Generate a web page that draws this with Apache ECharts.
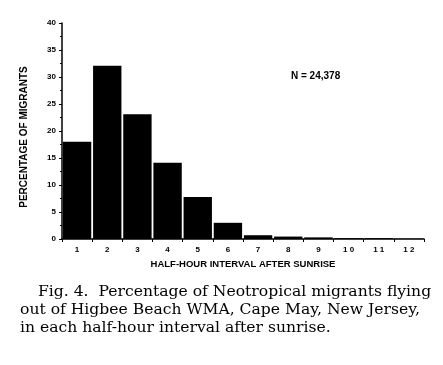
<!DOCTYPE html>
<html><head><meta charset="utf-8">
<script src="https://cdn.jsdelivr.net/npm/echarts@6/dist/echarts.min.js"></script>
<style>html,body{margin:0;padding:0;background:#fff}#c{width:443px;height:365px}</style>
</head><body><div id="c"></div>
<script>
const categories = ["1","2","3","4","5","6","7","8","9","10","11","12"];
const percentages = [18.0, 32.1, 23.1, 14.1, 7.8, 3.0, 0.7, 0.45, 0.3, 0.15, 0.15, 0.05];
const yTicks = [0, 5, 10, 15, 20, 25, 30, 35, 40];
const captionLines = [
  "Fig. 4.  Percentage of Neotropical migrants flying",
  "out of Higbee Beach WMA, Cape May, New Jersey,",
  "in each half-hour interval after sunrise."
];
const chart = echarts.init(document.getElementById('c'), null, {renderer:'canvas'});
const sans = '"Liberation Sans", Arial, sans-serif';
const serif = '"DejaVu Serif", serif';
chart.setOption({
  animation:false,
  backgroundColor:'#fff',
  grid:{left:62, right:19, top:23, bottom:126, containLabel:false},
  xAxis:{
    type:'category', data:categories,
    name:'HALF-HOUR INTERVAL AFTER SUNRISE', nameLocation:'middle', nameGap:15,
    nameTextStyle:{fontFamily:sans, fontWeight:'bold', fontSize:9.5, color:'#000'},
    axisLine:{lineStyle:{color:'#000', width:1.5}},
    axisTick:{show:true, length:3, lineStyle:{color:'#000'}},
    axisLabel:{fontFamily:sans, fontWeight:'bold', fontSize:8, color:'#000', margin:7,
      formatter: v => v.split('').join(' ')}
  },
  yAxis:{
    type:'value', min:yTicks[0], max:yTicks[yTicks.length-1], interval:5,
    name:'PERCENTAGE OF MIGRANTS', nameLocation:'middle', nameGap:33, nameRotate:90,
    nameTextStyle:{fontFamily:sans, fontWeight:'bold', fontSize:10, color:'#000', padding:[0,12,0,0]},
    axisLine:{show:true, lineStyle:{color:'#000', width:1.5}},
    axisTick:{show:true, length:3, lineStyle:{color:'#000'}},
    minorTick:{show:true, splitNumber:2, length:2, lineStyle:{color:'#000'}},
    splitLine:{show:false},
    axisLabel:{fontFamily:sans, fontWeight:'bold', fontSize:8, color:'#000', margin:6}
  },
  series:[{
    type:'bar', data:percentages, barCategoryGap:'6%',
    itemStyle:{color:'#000'}
  }],
  graphic:[
    {type:'text', left:291, top:71, style:{text:'N = 24,378', font:'bold 10px '+sans, fill:'#000'}},
    {type:'text', left:38, top:284, style:{text:captionLines[0], font:'15.6px '+serif, fill:'#000'}},
    {type:'text', left:20, top:302, style:{text:captionLines[1], font:'15.6px '+serif, fill:'#000'}},
    {type:'text', left:20, top:320, style:{text:captionLines[2], font:'15.6px '+serif, fill:'#000'}}
  ]
});
</script></body></html>
